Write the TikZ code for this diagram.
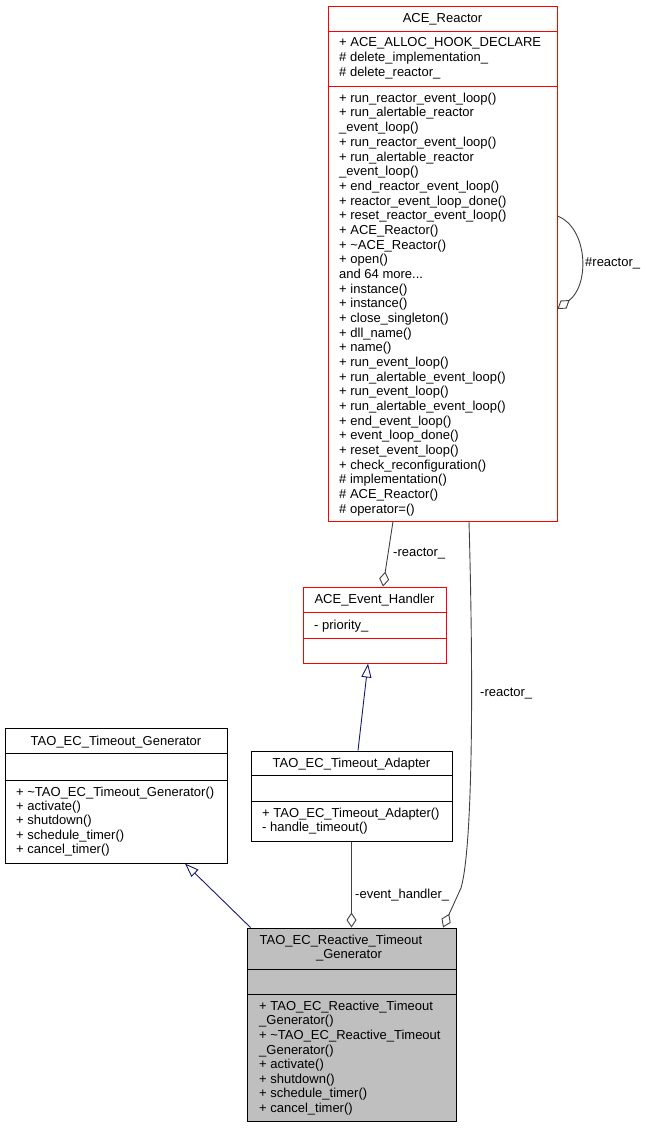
\documentclass[tikz,border=0pt]{standalone}
\usepackage{fontspec}
\setmainfont{Liberation Sans}
\usetikzlibrary{arrows.meta}
\definecolor{edgegray}{HTML}{404040}
\definecolor{inhblue}{HTML}{191970}
\definecolor{boxred}{HTML}{FF0000}
\definecolor{selgray}{HTML}{BFBFBF}

\begin{document}
\begin{tikzpicture}[x=1pt, y=-1pt,
    font=\fontsize{13}{14.7}\selectfont,
    classbox/.style={draw, line width=1pt, inner sep=0pt},
    member/.style={anchor=base west, inner sep=0pt},
    title/.style={anchor=base, inner sep=0pt},
    aggr/.style={draw=edgegray, line width=0.9pt, -{Diamond[open, length=15pt, width=10pt]}},
    inherit/.style={draw=inhblue, line width=0.9pt, -{Triangle[open, length=14pt, width=10pt]}},
    elabel/.style={anchor=west, inner sep=0pt}]
    \useasboundingbox (0,0) rectangle (645,1128);

    \node[classbox, draw=boxred, minimum width=229pt, minimum height=515pt] (reactor) at (442.5,263.5) {};
    \draw[boxred, line width=1pt] (328,31) -- (557,31) (328,86) -- (557,86);
    \node[title] (reactor title) at (442.5,22.6) {ACE\_Reactor};
    \foreach \entry [count=\i from 0] in {+ ACE\_ALLOC\_HOOK\_DECLARE, \# delete\_implementation\_, \# delete\_reactor\_}
        \node[member] at (339,46.7+14.7*\i) {\entry};
    \foreach \entry [count=\i from 0] in {+ run\_reactor\_event\_loop(), + run\_alertable\_reactor, \_event\_loop(),
        + run\_reactor\_event\_loop(), + run\_alertable\_reactor, \_event\_loop(), + end\_reactor\_event\_loop(),
        + reactor\_event\_loop\_done(), + reset\_reactor\_event\_loop(), + ACE\_Reactor(), + \textasciitilde ACE\_Reactor(),
        + open(), and 64 more.{}.{}., + instance(), + instance(), + close\_singleton(), + dll\_name(), + name(),
        + run\_event\_loop(), + run\_alertable\_event\_loop(), + run\_event\_loop(), + run\_alertable\_event\_loop(),
        + end\_event\_loop(), + event\_loop\_done(), + reset\_event\_loop(), + check\_reconfiguration(),
        \# implementation(), \# ACE\_Reactor(), \# operator=()}
        \node[member] at (339,102.3+14.68*\i) {\entry};

    \node[classbox, draw=boxred, minimum width=143pt, minimum height=76pt] (handler) at (374.5,625) {};
    \draw[boxred, line width=1pt] (303,612) -- (446,612) (303,638) -- (446,638);
    \node[title] (handler title) at (374.5,603.5) {ACE\_Event\_Handler};
    \node[member] (handler priority) at (314,629.3) {- priority\_};

    \node[classbox, minimum width=222pt, minimum height=135pt] (generator) at (116,795.5) {};
    \draw[line width=1pt] (5,753) -- (227,753) (5,780) -- (227,780);
    \node[title] (generator title) at (116,745.5) {TAO\_EC\_Timeout\_Generator};
    \foreach \entry [count=\i from 0] in {+ \textasciitilde TAO\_EC\_Timeout\_Generator(), + activate(), + shutdown(),
        + schedule\_timer(), + cancel\_timer()}
        \node[member] at (16,796.3+14.3*\i) {\entry};

    \node[classbox, minimum width=201pt, minimum height=90pt] (adapter) at (351.5,796) {};
    \draw[line width=1pt] (251,775) -- (452,775) (251,801) -- (452,801);
    \node[title] (adapter title) at (351.5,767.5) {TAO\_EC\_Timeout\_Adapter};
    \foreach \entry [count=\i from 0] in {+ TAO\_EC\_Timeout\_Adapter(), - handle\_timeout()}
        \node[member] at (262,817.3+14*\i) {\entry};

    \node[classbox, fill=selgray, minimum width=209pt, minimum height=193pt] (reactive) at (351.5,1024.5) {};
    \draw[line width=1pt] (247,969) -- (456,969) (247,994) -- (456,994);
    \node[title] (reactive title) at (341,944.5) {TAO\_EC\_Reactive\_Timeout};
    \node[title] (reactive title2) at (349,958.8) {\_Generator};
    \foreach \entry [count=\i from 0] in {+ TAO\_EC\_Reactive\_Timeout, \_Generator(), + \textasciitilde TAO\_EC\_Reactive\_Timeout,
        \_Generator(), + activate(), + shutdown(), + schedule\_timer(), + cancel\_timer()}
        \node[member] at (259,1010.3+14.6*\i) {\entry};

    \draw[aggr] ([xshift=-49.5pt]reactor.south) -- ([xshift=8.5pt]handler.north);
    \node[elabel] at (393,554) {-reactor\_};
    \draw[aggr] ([yshift=47.5pt]reactor.east) .. controls (588,228) and (590,285) .. ([yshift=-45.5pt]reactor.east);
    \node[elabel] at (585,263) {\#reactor\_};
    \draw[inherit] ([xshift=6.5pt]adapter.north) -- ([xshift=-6.5pt]handler.south);
    \draw[inherit] ([xshift=4pt]reactive.north west) -- ([xshift=69pt]generator.south);
    \draw[aggr] (adapter.south) -- (reactive.north);
    \node[elabel] at (355,895) {-event\_handler\_};
    \coordinate (reactor bend) at (461,888);
    \draw[aggr] ([xshift=26.5pt]reactor.south) .. controls (474,700) and (472,850) .. (reactor bend) -- ([xshift=91.5pt]reactive.north);
    \node[elabel] at (480,694) {-reactor\_};
\end{tikzpicture}
\end{document}
